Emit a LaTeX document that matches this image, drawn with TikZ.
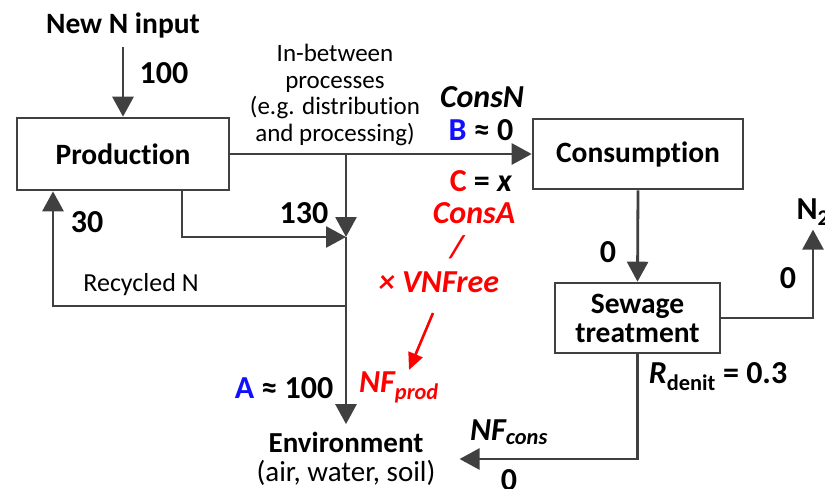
\documentclass[tikz,border=0pt]{standalone}
\usepackage{fontspec}
\setmainfont{Carlito}[Ligatures=NoCommon]
\usetikzlibrary{arrows.meta}
\definecolor{lc}{HTML}{404040}
\definecolor{rd}{HTML}{FF0000}
\definecolor{bl}{HTML}{1010FF}
\tikzset{
  boxnode/.style={draw=lc, line width=2.6pt, fill=white, inner sep=0pt, font=\fontsize{29.5}{30}\selectfont\bfseries, align=center},
  lbl/.style={inner sep=0pt, font=\fontsize{32}{34}\selectfont\bfseries, align=center},
  small/.style={inner sep=0pt, font=\fontsize{25}{26.5}\selectfont, align=center},
  flow/.style={draw=lc, line width=2.8pt, -{Triangle[length=20pt,width=21pt]}},
  redarrow/.style={draw=rd, line width=2.6pt, -{Triangle[length=17pt,width=15pt]}},
}
\begin{document}
\begin{tikzpicture}[x=1pt,y=-1pt]
\useasboundingbox (0,0) rectangle (825,488);
% boxes
\node[boxnode, minimum width=212pt, minimum height=72pt] (prod) at (123,154) {Production};
\node[boxnode, minimum width=210pt, minimum height=70pt] (cons) at (638,154) {Consumption};
\node[boxnode, minimum width=165pt, minimum height=70pt] (sew) at (637.5,318) {Sewage\\[-1pt]treatment};
\node[inner sep=0pt, align=center, font=\fontsize{29}{29}\selectfont] (env) at (346,459) {\textbf{Environment}\\(air, water, soil)};
\node[boxnode, draw=none, fill=none] (newN) at (123,25) {New N input};
\node[lbl] (n2) at (813,212) {N\textsubscript{2}};
% junction coordinates
\coordinate (j1) at (346,154);
\coordinate (j2) at (346,237);
\coordinate (j3) at (346,306);
\coordinate (pbx) at (182,0);
\coordinate (rx) at (53,0);
\coordinate (ra1) at (433,313);
\coordinate (ra2) at (409,370);
% connectors
\draw[flow, shorten <=8pt] (newN.south) -- (prod.north);
\draw[flow] (prod.east) -- (cons.west);
\draw[flow] (j1) -- (j2);
\draw[flow] (prod.south -| pbx) |- (j2);
\draw[flow, shorten >=8pt] (j2) -- (env.north);
\draw[flow] (j3) -| (prod.south -| rx);
\draw[flow] (cons.south) -- (sew.north);
\draw[flow, shorten >=4pt] (sew.east) -| (n2.south);
\draw[flow, shorten >=24pt] (sew.south) |- (env.east);
\draw[redarrow] (ra1) -- (ra2);
% labels
\node[lbl] (l100) at (164,73) {100};
\node[small] (inb) at (335,95) {In-between\\processes\\(e.g. distribution\\and processing)};
\node[lbl] (consN) at (482,97) {\itshape ConsN};
\node[lbl] (bval) at (481,130) {\textcolor{bl}{B} ≈ 0};
\node[lbl] (cval) at (481,181) {\textcolor{rd}{C} = \textit{x}};
\node[lbl, text=rd] (consA) at (474,213) {\itshape ConsA};
\node[lbl, text=rd] (slash) at (457,247) {\itshape /};
\node[lbl, text=rd] (vnf) at (439,282) {\itshape × VNFree};
\node[lbl, text=rd] (nfp) at (399,387) {\itshape NF\textsubscript{prod}};
\node[lbl] (aval) at (284,388) {\textcolor{bl}{A} ≈ 100};
\node[lbl] (l130) at (304,213) {130};
\node[lbl] (l30) at (87,222) {30};
\node[small, font=\fontsize{26}{27}\selectfont] (rec) at (141,285) {Recycled N};
\node[lbl] (l0a) at (608,252) {0};
\node[lbl] (l0b) at (788,278) {0};
\node[lbl] (rden) at (718,377) {\textit{R}\textsubscript{denit} = 0.3};
\node[lbl] (nfc) at (509,432) {\itshape NF\textsubscript{cons}};
\node[lbl] (l0c) at (509,480) {0};
\end{tikzpicture}
\end{document}
